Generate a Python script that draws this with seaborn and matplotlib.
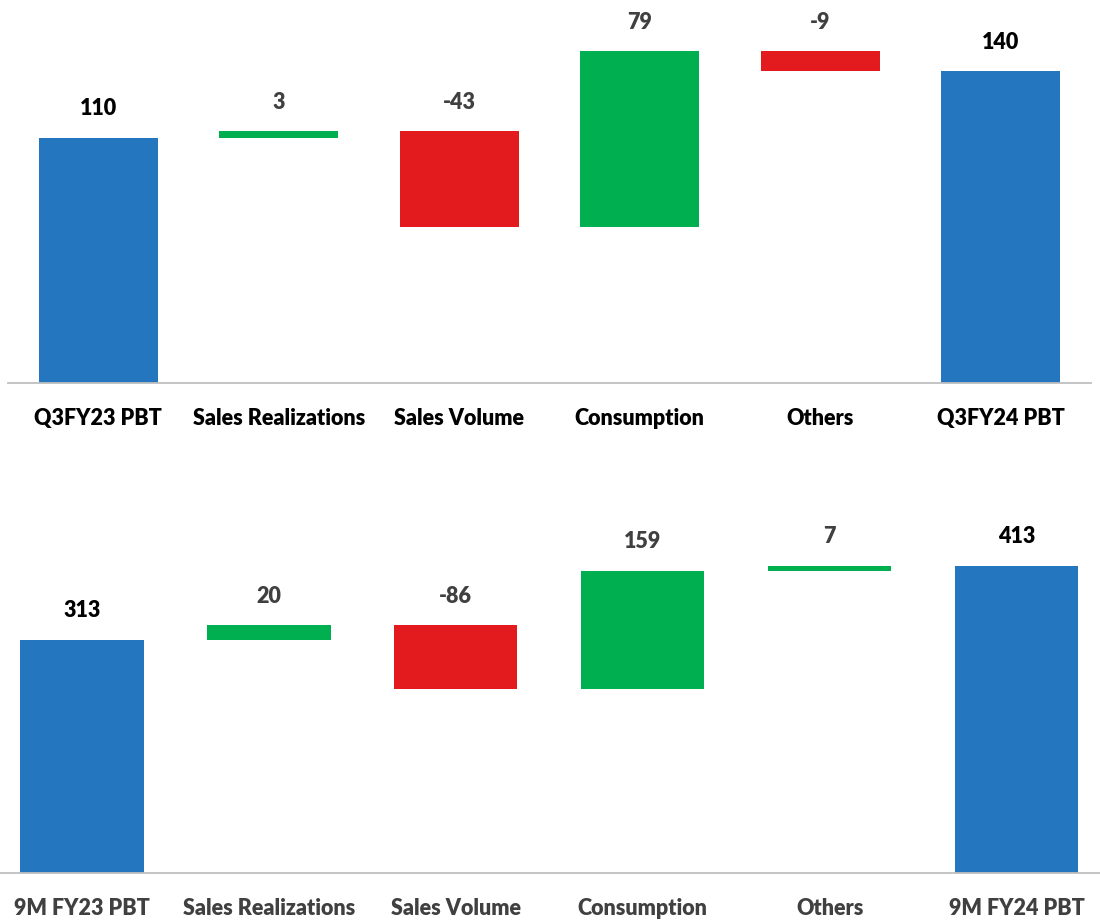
import matplotlib
matplotlib.use("Agg")
import matplotlib.pyplot as plt
import seaborn as sns

# data
q3_cats = ["Q3FY23 PBT", "Sales Realizations", "Sales Volume", "Consumption", "Others", "Q3FY24 PBT"]
q3_vals = [110, 3, -43, 79, -9, 140]
nm_cats = ["9M FY23 PBT", "Sales Realizations", "Sales Volume", "Consumption", "Others", "9M FY24 PBT"]
nm_vals = [313, 20, -86, 159, 7, 413]

BLUE = "#2477BF"
GREEN = "#00B050"
RED = "#E41B1E"

sns.set_theme(style="white")
plt.rcParams["font.family"] = ["Lato", "DejaVu Sans"]


def waterfall(ax, cats, vals, ymax, cat_color):
    # bases and heights of each floating bar
    bases, heights, colors = [], [], []
    run = 0
    last = len(vals) - 1
    for i, v in enumerate(vals):
        if i == 0 or i == last:
            bases.append(0)
            heights.append(v)
            colors.append(BLUE)
            run = v
        else:
            bases.append(min(run, run + v))
            heights.append(abs(v))
            colors.append(GREEN if v >= 0 else RED)
            run += v
    pal = dict(zip(cats, colors))
    sns.barplot(x=cats, y=heights, hue=cats, palette=pal, legend=False,
                width=0.66, saturation=1, ax=ax, linewidth=0)
    for p, b in zip(ax.patches, bases):
        p.set_y(b)
    for i, v in enumerate(vals):
        top = bases[i] + heights[i]
        is_total = i == 0 or i == last
        ax.annotate(f"{v}", xy=(i, top), xytext=(0, 21), textcoords="offset points",
                    ha="center", va="center", fontsize=15.5, fontweight="heavy",
                    color="black" if is_total else "#404040")
    ax.set_ylim(0, ymax)
    ax.set_xlim(-0.5, len(cats) - 0.5)
    ax.set_yticks([])
    ax.set_ylabel("")
    for s in ["top", "left", "right"]:
        ax.spines[s].set_visible(False)
    ax.spines["bottom"].set_color("#BFBFBF")
    ax.spines["bottom"].set_linewidth(1.3)
    ax.tick_params(axis="x", length=0, pad=18)
    for t in ax.get_xticklabels():
        t.set_fontsize(15.5)
        t.set_fontweight("heavy")
        t.set_color(cat_color)


fig = plt.figure(figsize=(11, 9.21), dpi=100)
ax1 = fig.add_axes([0.00727, 0.5841, 0.9845, 0.4158])
ax2 = fig.add_axes([-0.01045, 0.0521, 1.0195, 0.4376])

waterfall(ax1, q3_cats, q3_vals, 172, "black")
waterfall(ax2, nm_cats, nm_vals, 541.7, "#404040")

fig.savefig("out.png", dpi=100)
